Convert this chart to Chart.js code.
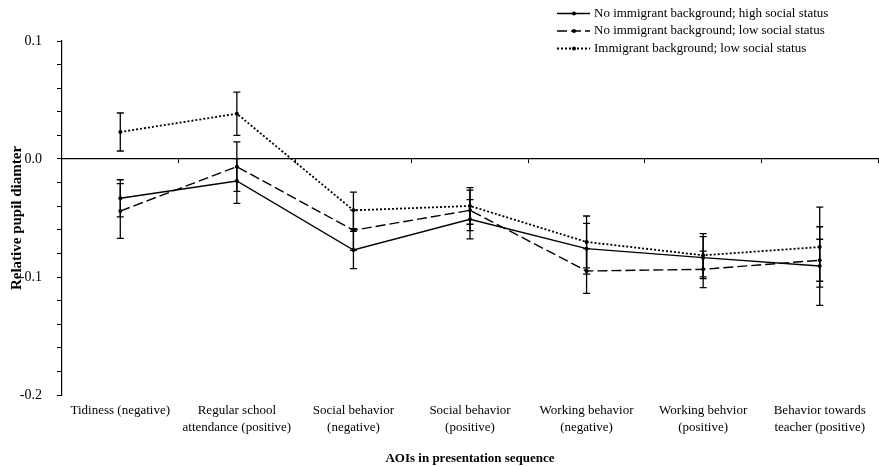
<!DOCTYPE html>
<html>
<head>
<meta charset="utf-8">
<script src="https://cdn.jsdelivr.net/npm/chart.js@4"></script>
<style>
    html, body { margin: 0; padding: 0; background: #fff; overflow: hidden; }
    #wrap { position: relative; width: 882px; height: 466px; }
</style>
</head>
<body>
<div id="wrap"><canvas id="pupil-chart"></canvas></div>
<script>
const categories = [
    'Tidiness (negative)',
    ['Regular school', 'attendance (positive)'],
    ['Social behavior', '(negative)'],
    ['Social behavior', '(positive)'],
    ['Working behavior', '(negative)'],
    ['Working behvior', '(positive)'],
    ['Behavior towards', 'teacher (positive)']
];

// mean relative pupil diameter and error bar half-widths per group
const highStatus = [-0.0333, -0.0186, -0.0771, -0.0511, -0.0760, -0.0836, -0.0907];
const highStatusErr = [0.0157, 0.0190, 0.0158, 0.0166, 0.0215, 0.0178, 0.0333];
const lowStatus = [-0.0441, -0.0065, -0.0604, -0.0435, -0.0949, -0.0935, -0.0858];
const lowStatusErr = [0.0232, 0.0210, 0.0170, 0.0172, 0.0190, 0.0155, 0.0178];
const immigrant = [0.0229, 0.0384, -0.0435, -0.0398, -0.0703, -0.0816, -0.0746];
const immigrantErr = [0.0161, 0.0183, 0.0155, 0.0155, 0.0220, 0.0183, 0.0339];

const seriesLabels = [
    'No immigrant background; high social status',
    'No immigrant background; low social status',
    'Immigrant background; low social status'
];

const FONT = '"Liberation Serif", "Times New Roman", serif';
Chart.defaults.font.family = FONT;
Chart.defaults.font.size = 13;
Chart.defaults.color = '#000';

const errorBars = {
    id: 'errorBars',
    afterDatasetsDraw(chart) {
        const { ctx, scales: { y } } = chart;
        chart.data.datasets.forEach((ds, i) => {
            const meta = chart.getDatasetMeta(i);
            meta.data.forEach((pt, j) => {
                const v = ds.data[j];
                const e = ds.errors[j];
                const top = y.getPixelForValue(v + e);
                const bot = y.getPixelForValue(v - e);
                ctx.save();
                ctx.strokeStyle = '#000';
                ctx.lineWidth = 1.3;
                ctx.beginPath();
                ctx.moveTo(pt.x, top);
                ctx.lineTo(pt.x, bot);
                ctx.moveTo(pt.x - 3.5, top);
                ctx.lineTo(pt.x + 3.5, top);
                ctx.moveTo(pt.x - 3.5, bot);
                ctx.lineTo(pt.x + 3.5, bot);
                ctx.stroke();
                ctx.restore();
            });
        });
    }
};

const legendLines = {
    id: 'legendLines',
    afterDraw(chart) {
        const ctx = chart.ctx;
        chart.data.datasets.forEach((ds, i) => {
            const y = 13.5 + i * 17.5;
            ctx.save();
            ctx.strokeStyle = '#000';
            ctx.fillStyle = '#000';
            ctx.lineWidth = ds.borderWidth;
            ctx.setLineDash(ds.borderDash || []);
            ctx.beginPath();
            ctx.moveTo(557, y);
            ctx.lineTo(590, y);
            ctx.stroke();
            ctx.setLineDash([]);
            ctx.beginPath();
            ctx.arc(574, y, 2, 0, Math.PI * 2);
            ctx.fill();
            ctx.font = '13px ' + FONT;
            ctx.textBaseline = 'middle';
            ctx.fillText(ds.label, 594, y);
            ctx.restore();
        });
    }
};

const lineStyle = (label, data, errors, dash, width) => ({
    label,
    data,
    errors,
    borderColor: '#000',
    backgroundColor: '#000',
    borderWidth: width,
    borderDash: dash,
    pointRadius: 2,
    pointBackgroundColor: '#000',
    pointBorderWidth: 0,
    tension: 0,
    fill: false
});

new Chart(document.getElementById('pupil-chart').getContext('2d'), {
    type: 'line',
    data: {
        labels: categories,
        datasets: [
            lineStyle(seriesLabels[0], highStatus, highStatusErr, [], 1.4),
            lineStyle(seriesLabels[1], lowStatus, lowStatusErr, [10, 4], 1.4),
            lineStyle(seriesLabels[2], immigrant, immigrantErr, [2, 2], 1.8)
        ]
    },
    options: {
        responsive: true,
        maintainAspectRatio: false,
        animation: false,
        layout: { padding: { top: 41, right: 0, bottom: 0, left: 0 } },
        plugins: {
            legend: { display: false },
            title: { display: false },
            tooltip: { enabled: false }
        },
        scales: {
            x: {
                type: 'category',
                position: 'bottom',
                offset: true,
                grid: { display: false, drawTicks: false },
                border: { display: false },
                ticks: { padding: 7.5, autoSkip: false, maxRotation: 0, color: '#000', font: { size: 13, lineHeight: 1.3 } },
                title: {
                    display: true,
                    text: 'AOIs in presentation sequence',
                    font: { weight: 'bold', size: 13 },
                    padding: { top: 0, bottom: 0 }
                },
                afterFit: (scale) => { scale.height = 71; }
            },
            x2: {
                type: 'category',
                position: { y: 0 },
                offset: true,
                grid: { display: true, drawOnChartArea: false, offset: true, tickLength: 4, color: '#000', lineWidth: 1 },
                border: { display: true, color: '#000', width: 1.2 },
                ticks: { display: false }
            },
            y: {
                min: -0.2,
                max: 0.1,
                grid: { display: true, drawOnChartArea: false, tickLength: 5, color: '#000', lineWidth: 1 },
                border: { display: true, color: '#000', width: 1.2 },
                ticks: {
                    stepSize: 0.02,
                    autoSkip: false,
                    padding: 15,
                    color: '#000',
                    font: { size: 14 },
                    callback: (v) => Math.abs(v * 10 - Math.round(v * 10)) < 1e-6 ? (Math.round(v * 10) / 10).toFixed(1) : ''
                },
                title: {
                    display: true,
                    text: 'Relative pupil diamter',
                    font: { weight: 'bold', size: 15 },
                    padding: { top: 8, bottom: 0 }
                },
                afterFit: (scale) => { scale.width = 62; }
            }
        }
    },
    plugins: [errorBars, legendLines]
});
</script>
</body>
</html>
